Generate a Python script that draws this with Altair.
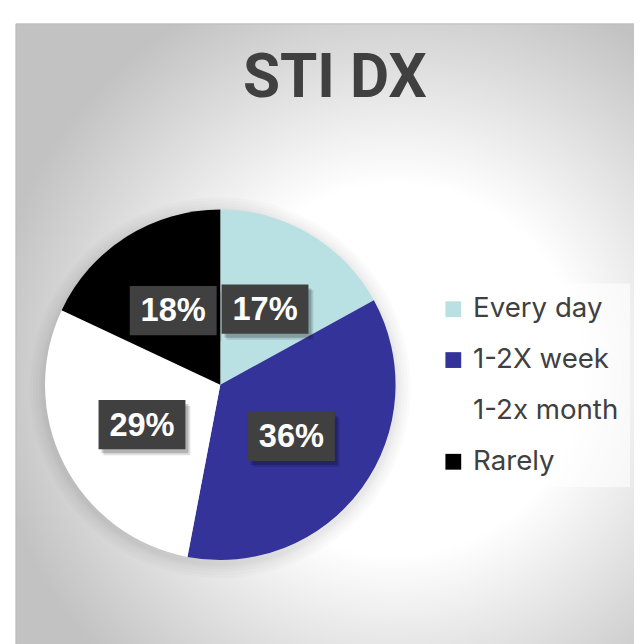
import altair as alt
import pandas as pd

# ---- data ----
categories = ["Every day", "1-2X week", "1-2x month", "Rarely"]
values = [17, 36, 29, 18]
labels = ["17%", "36%", "29%", "18%"]
colors = ["#b9e1e4", "#333399", "#ffffff", "#000000"]
title_text = ["STI DX"]

df = pd.DataFrame({
    "category": categories,
    "value": values,
    "label": labels,
    "order": list(range(len(categories))),
})

W, H = 634, 636
CX, CY, R = 215, 377.5, 177.5
LR = 89  # label radius
BOX = "M-1,-0.568L1,-0.568L1,0.568L-1,0.568Z"
BOX_SIZE = 7744

one = pd.DataFrame({"k": [0]})

grad = alt.RadialGradient(
    gradient="radial",
    stops=[
        alt.GradientStop(offset=0, color="#ffffff"),
        alt.GradientStop(offset=0.45, color="#ffffff"),
        alt.GradientStop(offset=1, color="#c2c2c2"),
    ],
    x1=0.463, y1=0.422, r1=0,
    x2=0.463, y2=0.422, r2=0.5,
)

bg = alt.Chart(one).mark_rect(fill=grad, stroke="#bcbcbc", strokeWidth=1).encode(
    x=alt.value(8), x2=alt.value(838), y=alt.value(12), y2=alt.value(842)
)

base = alt.Chart(df)

shadows = []
for r in [193, 190, 187, 184, 182, 180]:
    shadows.append(
        base.transform_aggregate(total="sum(value)")
        .mark_arc(outerRadius=r, color="black", opacity=0.016)
        .encode(theta="total:Q", x=alt.value(CX), y=alt.value(CY + 3))
    )

pie = base.mark_arc(outerRadius=R, strokeWidth=0).encode(
    theta=alt.Theta("value:Q", stack=True),
    order=alt.Order("order:Q", sort="ascending"),
    color=alt.Color(
        "category:N",
        scale=alt.Scale(domain=categories, range=colors),
        sort=categories,
        legend=alt.Legend(title=None),
    ),
    x=alt.value(CX),
    y=alt.value(CY),
)

legend_box = alt.Chart(one).mark_rect(fill="#ffffff", opacity=0.6).encode(
    x=alt.value(422), x2=alt.value(630), y=alt.value(275), y2=alt.value(481)
)

lab = (
    base.transform_window(cum="sum(value)", sort=[alt.SortField("order")], frame=[None, 0])
    .transform_joinaggregate(total="sum(value)")
    .transform_calculate(ang="2*PI*(datum.cum - datum.value/2)/datum.total")
    .transform_calculate(
        px=f"{CX} + {LR}*sin(datum.ang)",
        py=f"{CY} - {LR}*cos(datum.ang)",
    )
)
pos = dict(
    x=alt.X("px:Q", scale=None, axis=None),
    y=alt.Y("py:Q", scale=None, axis=None),
)

box_sh1 = lab.mark_point(shape=BOX, size=BOX_SIZE, filled=True, color="black",
                         opacity=0.12, strokeWidth=0, xOffset=5, yOffset=6).encode(**pos)
box_sh2 = lab.mark_point(shape=BOX, size=BOX_SIZE, filled=True, color="black",
                         opacity=0.2, strokeWidth=0, xOffset=3, yOffset=4).encode(**pos)
boxes = lab.mark_point(shape=BOX, size=BOX_SIZE, filled=True, color="#404040",
                       opacity=1, strokeWidth=0).encode(**pos)
texts = lab.mark_text(font="Liberation Sans", fontWeight="bold", fontSize=33,
                      color="#ffffff", align="center", baseline="middle", dy=1).encode(
    text="label:N", **pos)

title = alt.Chart(pd.DataFrame({"t": title_text})).mark_text(
    font="Roboto", fontWeight="bold", fontSize=61, color="#404040",
    align="center", baseline="alphabetic",
).encode(text="t:N", x=alt.value(331), y=alt.value(86))

chart = (
    alt.layer(bg, *shadows, pie, legend_box, box_sh1, box_sh2, boxes, texts, title)
    .properties(width=W, height=H, padding=0, background="#ffffff",
                autosize=alt.AutoSizeParams(type="none"))
    .configure_view(stroke=None)
    .configure_legend(
        orient="none", legendX=422, legendY=272, padding=15,
        symbolType="square", symbolSize=256, symbolStrokeWidth=0, symbolOpacity=1,
        labelFont="Inter", labelFontSize=28, labelColor="#404040",
        labelOffset=6, labelLimit=400, rowPadding=23.5,
    )
)

chart.save("out.html", embed_options={"renderer": "svg", "actions": False})
